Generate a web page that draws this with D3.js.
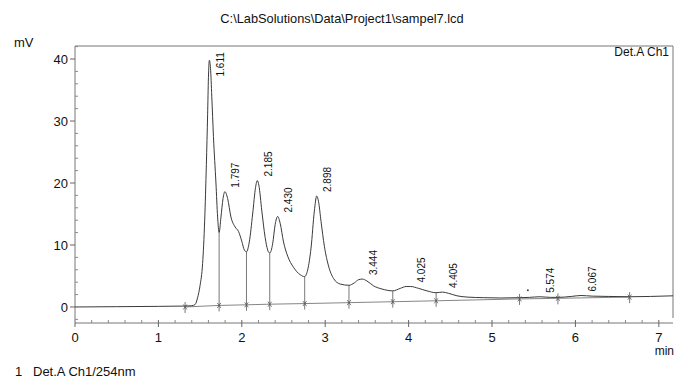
<!DOCTYPE html>
<html>
<head>
<meta charset="utf-8">
<script src="https://cdn.jsdelivr.net/npm/d3@7"></script>
<style>
  html, body { margin: 0; padding: 0; background: #fff; }
  svg { display: block; }
  text { font-family: "Liberation Sans", Arial, sans-serif; fill: #111; }
</style>
</head>
<body>
<svg id="chart" width="676" height="381"></svg>
<script>
// Chromatogram trace: retention time (min) and detector signal (mV)
const traceTime = [
  0, 0.5, 1.0, 1.32, 1.40, 1.44, 1.47, 1.50, 1.53, 1.555, 1.575, 1.59, 1.60, 1.611,
  1.625, 1.64, 1.66, 1.69, 1.71, 1.728, 1.75, 1.775, 1.797, 1.83, 1.87, 1.92, 1.96,
  2.00, 2.03, 2.056, 2.09, 2.13, 2.165, 2.185, 2.205, 2.24, 2.28, 2.31, 2.335, 2.37,
  2.40, 2.43, 2.46, 2.50, 2.55, 2.62, 2.70, 2.754, 2.79, 2.83, 2.87, 2.898, 2.92,
  2.95, 2.99, 3.04, 3.10, 3.18, 3.285, 3.35, 3.40, 3.444, 3.50, 3.58, 3.68, 3.81,
  3.90, 3.97, 4.025, 4.12, 4.22, 4.33, 4.405, 4.48, 4.58, 4.70, 4.90, 5.10, 5.33,
  5.45, 5.574, 5.70, 5.79, 5.95, 6.067, 6.20, 6.40, 6.65, 6.90, 7.17
];
const traceSignal = [
  0.0, 0.05, 0.1, 0.15, 0.2, 0.4, 1.5, 3.5, 7.0, 14.0, 23.0, 31.0, 37.0, 39.8,
  38.5, 34.0, 27.5, 20.0, 14.5, 12.0, 14.5, 17.5, 18.6, 17.5, 14.5, 12.9, 12.2,
  10.6, 9.2, 8.9, 10.5, 15.0, 19.3, 20.4, 19.6, 15.5, 11.2, 9.2, 8.7, 10.2,
  13.3, 14.6, 13.5, 10.5, 8.2, 6.4, 5.2, 4.9, 6.0, 9.5, 15.5, 17.9, 17.0,
  13.8, 9.8, 6.6, 4.6, 3.7, 3.5, 3.9, 4.4, 4.5, 4.2, 3.4, 2.9, 2.6,
  3.0, 3.3, 3.3, 3.0, 2.6, 2.3, 2.4, 2.2, 1.8, 1.6, 1.5, 1.45, 1.5,
  1.55, 1.65, 1.55, 1.55, 1.7, 1.85, 1.75, 1.7, 1.65, 1.7, 1.8
];

// Labelled peaks: retention time and apex height (mV)
const peakTimes   = ["1.611", "1.797", "2.185", "2.430", "2.898", "3.444", "4.025", "4.405", "5.574", "6.067"];
const peakHeights = [39.8, 18.6, 20.4, 14.6, 17.9, 4.5, 3.3, 2.4, 1.65, 1.85];

// Integration boundaries: time, baseline level (mV)
const boundaryTimes    = [1.32, 1.728, 2.056, 2.335, 2.754, 3.285, 3.81, 4.33, 5.33, 5.79, 6.65];
const boundaryBaseline = [0.0, 0.25, 0.35, 0.45, 0.55, 0.7, 0.85, 1.0, 1.3, 1.4, 1.6];

// Axis ticks
const xMajorTicks = [0, 1, 2, 3, 4, 5, 6, 7];
const xMinorTicks = [0.2, 0.4, 0.6, 0.8, 1.2, 1.4, 1.6, 1.8, 2.2, 2.4, 2.6, 2.8, 3.2, 3.4, 3.6, 3.8,
                     4.2, 4.4, 4.6, 4.8, 5.2, 5.4, 5.6, 5.8, 6.2, 6.4, 6.6, 6.8];
const yMajorTicks = [0, 10, 20, 30, 40];
const yMinorTicks = [-2, 2, 4, 6, 8, 12, 14, 16, 18, 22, 24, 26, 28, 32, 34, 36, 38, 42];

// Stray speck printed in the plot area
const speckTime = [5.43];
const speckSignal = [2.7];

const svg = d3.select("#chart");
const plotLeft = 75, plotRight = 673, plotTop = 46, plotBottom = 320, xAxisY = 323;

const x = d3.scaleLinear().domain([0, 7.17]).range([plotLeft, plotRight]);
const y = d3.scaleLinear().domain([-2.1, 42.1]).range([plotBottom, plotTop]);

const ink = "#3a3a3a";

// Title and captions
svg.append("text").attr("x", 342).attr("y", 23).attr("text-anchor", "middle")
  .attr("font-size", 12.8).text("C:\\LabSolutions\\Data\\Project1\\sampel7.lcd");
svg.append("text").attr("x", 14).attr("y", 47).attr("font-size", 13).text("mV");
svg.append("text").attr("x", 669).attr("y", 56).attr("text-anchor", "end")
  .attr("font-size", 12).text("Det.A Ch1");
svg.append("text").attr("x", 674).attr("y", 355).attr("text-anchor", "end")
  .attr("font-size", 12).text("min");
svg.append("text").attr("x", 15).attr("y", 376).attr("font-size", 13).text("1");
svg.append("text").attr("x", 33).attr("y", 376).attr("font-size", 13).text("Det.A Ch1/254nm");

// Frame: top and right edges
svg.append("path")
  .attr("d", `M${plotLeft},${plotTop}H${plotRight}V${plotBottom - 2}`)
  .attr("fill", "none").attr("stroke", "#777").attr("stroke-width", 1);

// Y axis: major ticks outward with labels, minor ticks inward
const yAxis = svg.append("g").attr("transform", `translate(${plotLeft},0)`);
yAxis.append("line").attr("x1", 0).attr("x2", 0).attr("y1", plotTop).attr("y2", plotBottom)
  .attr("stroke", "#777");
yAxis.selectAll(".ymaj").data(yMajorTicks).join("line")
  .attr("x1", -5).attr("x2", 0).attr("y1", d => y(d)).attr("y2", d => y(d)).attr("stroke", "#666");
yAxis.selectAll(".ymin").data(yMinorTicks).join("line")
  .attr("x1", 0).attr("x2", 3).attr("y1", d => y(d)).attr("y2", d => y(d)).attr("stroke", "#888");
yAxis.selectAll(".ylab").data(yMajorTicks).join("text")
  .attr("x", -7).attr("y", d => y(d)).attr("dy", "0.36em").attr("text-anchor", "end")
  .attr("font-size", 13).text(d => d);

// X axis: separate line below plot area
const xAxis = svg.append("g").attr("transform", `translate(0,${xAxisY})`);
xAxis.append("line").attr("x1", plotLeft).attr("x2", plotRight).attr("y1", 0).attr("y2", 0).attr("stroke", "#777");
xAxis.selectAll(".xmaj").data(xMajorTicks).join("line")
  .attr("x1", d => x(d)).attr("x2", d => x(d)).attr("y1", -3).attr("y2", 4).attr("stroke", "#666");
xAxis.selectAll(".xmin").data(xMinorTicks).join("line")
  .attr("x1", d => x(d)).attr("x2", d => x(d)).attr("y1", -3).attr("y2", 0).attr("stroke", "#888");
xAxis.selectAll(".xlab").data(xMajorTicks).join("text")
  .attr("x", d => x(d)).attr("y", 19).attr("text-anchor", "middle")
  .attr("font-size", 13).text(d => d);

// Integration baseline
const baseLine = d3.line().x(d => x(d[0])).y(d => y(d[1]));
svg.append("path")
  .datum(d3.zip(boundaryTimes, boundaryBaseline))
  .attr("d", baseLine)
  .attr("fill", "none").attr("stroke", "#666").attr("stroke-width", 0.8);

// Chromatogram trace
const trace = d3.line().x(d => x(d[0])).y(d => y(d[1])).curve(d3.curveMonotoneX);
svg.append("path")
  .datum(d3.zip(traceTime, traceSignal))
  .attr("d", trace)
  .attr("fill", "none").attr("stroke", ink).attr("stroke-width", 1);

// Boundary markers with drop lines up to the trace
const signalAt = t => traceSignal[traceTime.indexOf(t)];
const markers = svg.append("g").attr("stroke", "#555").attr("stroke-width", 0.8).attr("fill", "none");
boundaryTimes.forEach((t, i) => {
  const bx = x(t), by = y(boundaryBaseline[i]);
  const s = signalAt(t);
  const topY = s !== undefined ? Math.min(y(s), by - 5) : by - 9;
  markers.append("line").attr("x1", bx).attr("x2", bx).attr("y1", topY).attr("y2", by + 6);
  markers.append("path").attr("d", `M${bx - 1.8},${by - 2.5}L${bx},${by}L${bx + 1.8},${by - 2.5}`);
  markers.append("path").attr("d", `M${bx - 1.8},${by + 2.5}L${bx},${by}L${bx + 1.8},${by + 2.5}`);
});

// Retention time labels, rotated beside each apex
const labelSize = 10;
svg.selectAll(".plab").data(peakTimes).join("text")
  .attr("font-size", labelSize)
  .attr("transform", (d, i) => {
    const px = x(+d) + 11;
    const len = d.length * 5.3;
    const py = Math.max(y(peakHeights[i]) - 4, plotTop + 4 + len);
    return `translate(${px},${py}) rotate(-90)`;
  })
  .attr("dy", "0.35em")
  .text(d => d);

// Speck
svg.selectAll(".speck").data(d3.zip(speckTime, speckSignal)).join("circle")
  .attr("cx", d => x(d[0])).attr("cy", d => y(d[1])).attr("r", 0.9).attr("fill", "#333");
</script>
</body>
</html>
